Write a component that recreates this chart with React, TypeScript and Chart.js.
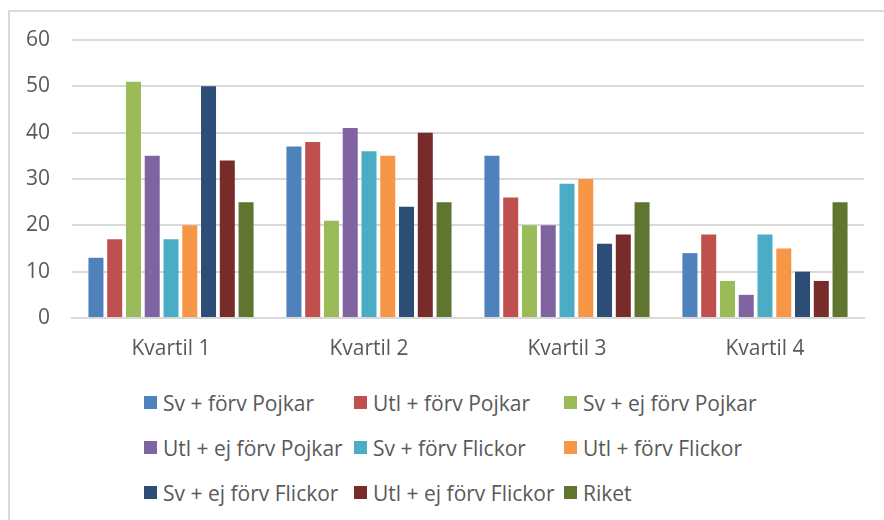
import React, { useEffect, useRef } from "react";
import { Chart, registerables } from "chart.js";

Chart.register(...registerables);

const categories = ["Kvartil 1", "Kvartil 2", "Kvartil 3", "Kvartil 4"];
const seriesNames = [
  "Sv + förv Pojkar",
  "Utl + förv Pojkar",
  "Sv + ej förv Pojkar",
  "Utl + ej förv Pojkar",
  "Sv + förv Flickor",
  "Utl + förv Flickor",
  "Sv + ej förv Flickor",
  "Utl + ej förv Flickor",
  "Riket",
];
const seriesColors = [
  "#4F81BD",
  "#C0504D",
  "#9BBB59",
  "#8064A2",
  "#4BACC6",
  "#F79646",
  "#2C4D75",
  "#772C2A",
  "#5F7530",
];
const svForvPojkar = [13, 37, 35, 14];
const utlForvPojkar = [17, 38, 26, 18];
const svEjForvPojkar = [51, 21, 20, 8];
const utlEjForvPojkar = [35, 41, 20, 5];
const svForvFlickor = [17, 36, 29, 18];
const utlForvFlickor = [20, 35, 30, 15];
const svEjForvFlickor = [50, 24, 16, 10];
const utlEjForvFlickor = [34, 40, 18, 8];
const riket = [25, 25, 25, 25];
const seriesValues = [
  svForvPojkar,
  utlForvPojkar,
  svEjForvPojkar,
  utlEjForvPojkar,
  svForvFlickor,
  utlForvFlickor,
  svEjForvFlickor,
  utlEjForvFlickor,
  riket,
];
const yMin = 0;
const yMax = 60;
const yStep = 10;

const FONT = "'Open Sans', 'Noto Sans', sans-serif";
const TEXT = "#595959";

export default function App() {
  const canvasRef = useRef<HTMLCanvasElement | null>(null);

  useEffect(() => {
    if (!canvasRef.current) return;
    const chart = new Chart(canvasRef.current, {
      type: "bar",
      data: {
        labels: categories,
        datasets: seriesNames.map((name, i) => ({
          label: name,
          data: seriesValues[i],
          backgroundColor: seriesColors[i],
          borderWidth: 0,
          categoryPercentage: 0.853,
          barPercentage: 0.8,
        })),
      },
      options: {
        responsive: false,
        animation: false,
        layout: { padding: { top: 40, right: 20, bottom: 2, left: 0 } },
        plugins: {
          legend: { display: false },
          tooltip: { enabled: false },
        },
        scales: {
          x: {
            grid: { display: false, drawTicks: false },
            border: { display: true, color: "#d9d9d9", width: 2 },
            ticks: {
              color: TEXT,
              font: { family: FONT, size: 21 },
              padding: 18,
            },
            afterFit: (s: any) => {
              s.height = 60;
            },
          },
          y: {
            min: yMin,
            max: yMax,
            ticks: {
              stepSize: yStep,
              color: TEXT,
              font: { family: FONT, size: 21 },
              padding: 22,
            },
            grid: { color: "#d9d9d9", lineWidth: 2, drawTicks: false },
            border: { display: false },
            afterFit: (s: any) => {
              s.width = 72;
            },
          },
        },
      },
    });
    return () => chart.destroy();
  }, []);

  return (
    <div
      style={{
        position: "fixed",
        left: 0,
        top: 0,
        width: 884,
        height: 520,
        background: "#fff",
        overflow: "hidden",
      }}
    >
      <div
        style={{
          position: "absolute",
          left: 8,
          top: 10,
          width: 1000,
          height: 1000,
          border: "2px solid #d9d9d9",
          boxSizing: "border-box",
        }}
      />
      <canvas
        ref={canvasRef}
        width={884}
        height={380}
        style={{ position: "absolute", left: 0, top: 0, width: 884, height: 380 }}
      />
      <div
        style={{
          position: "absolute",
          left: 144,
          top: 380,
          display: "grid",
          gridTemplateColumns: "210px 210px 210px",
          gridAutoRows: "45px",
          fontFamily: FONT,
          fontSize: 21,
          color: TEXT,
        }}
      >
        {seriesNames.map((name, i) => (
          <div key={name} style={{ display: "flex", alignItems: "center", whiteSpace: "nowrap" }}>
            <span
              style={{
                display: "inline-block",
                width: 13,
                height: 13,
                background: seriesColors[i],
                marginRight: 6,
              }}
            />
            <span>{name}</span>
          </div>
        ))}
      </div>
    </div>
  );
}
